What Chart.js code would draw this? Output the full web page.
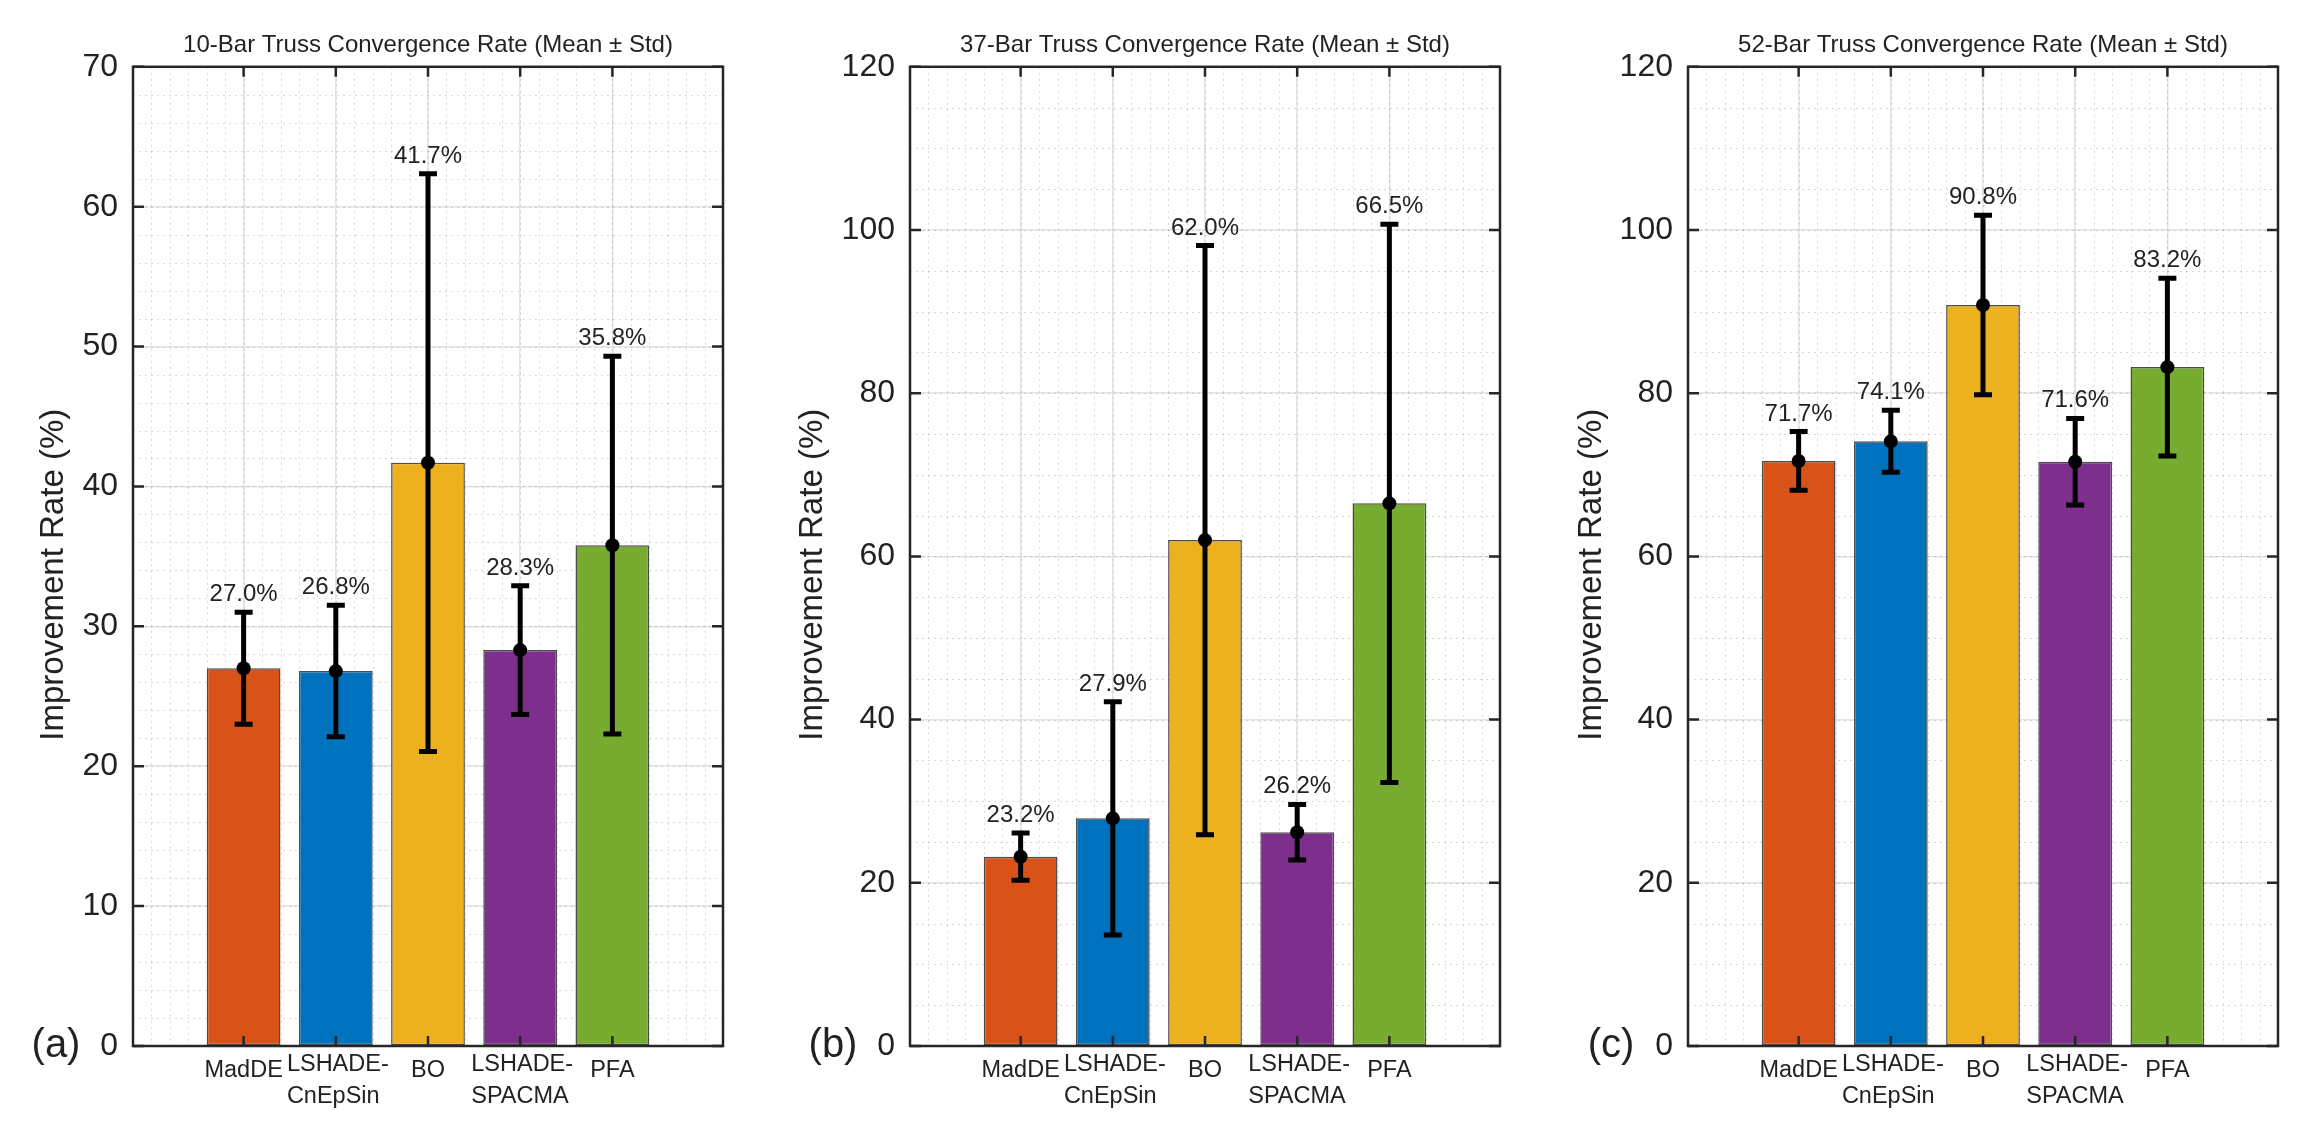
<!DOCTYPE html>
<html>
<head>
<meta charset="utf-8">
<script src="https://cdn.jsdelivr.net/npm/chart.js@4.4.1/dist/chart.umd.min.js"></script>
<style>
  html, body { margin: 0; padding: 0; background: #fff; overflow: hidden; }
  canvas { position: absolute; top: 0; }
</style>
</head>
<body>
<canvas id="c10" width="777" height="1132" style="left:0px"></canvas>
<canvas id="c37" width="777" height="1132" style="left:777px"></canvas>
<canvas id="c52" width="777" height="1132" style="left:1555px"></canvas>
<script>
// data
const categories = [['MadDE'], ['LSHADE-', 'CnEpSin'], ['BO'], ['LSHADE-', 'SPACMA'], ['PFA']];
const barColors = ['#D95319', '#0072BD', '#EDB120', '#7E2F8E', '#77AC30'];

const mean10 = [27.0, 26.8, 41.7, 28.3, 35.8];
const std10 = [4.0, 4.7, 20.65, 4.6, 13.5];

const mean37 = [23.2, 27.9, 62.0, 26.2, 66.5];
const std37 = [2.9, 14.3, 36.1, 3.4, 34.2];

const mean52 = [71.7, 74.1, 90.8, 71.6, 83.2];
const std52 = [3.6, 3.8, 11.0, 5.3, 10.9];

const FONT = '"Liberation Sans", Arial, Helvetica, sans-serif';
const AXIS = '#262626';

//draws minor grid, error bars, value labels, category labels, box and inward ticks
const meanStdPlugin = {
    id: 'meanStd',
    beforeDatasetsDraw(chart, args, o) {
        const {ctx, chartArea: a, scales: {x, y}} = chart;
        ctx.save();
        ctx.strokeStyle = 'rgba(0,0,0,0.15)';
        ctx.lineWidth = 1;
        ctx.setLineDash([2, 4]);
        let nx = Math.round((x.max - x.min) / 0.2);
        for (let i = 1; i < nx; i++) {
            let px = Math.round(x.getPixelForValue(x.min + i * 0.2)) + 0.5;
            ctx.beginPath(); ctx.moveTo(px, a.top); ctx.lineTo(px, a.bottom); ctx.stroke();
        }
        let ny = Math.round(y.max / o.minorStep);
        for (let i = 1; i < ny; i++) {
            let py = Math.round(y.getPixelForValue(i * o.minorStep)) + 0.5;
            ctx.beginPath(); ctx.moveTo(a.left, py); ctx.lineTo(a.right, py); ctx.stroke();
        }
        ctx.restore();
    },
    afterDatasetsDraw(chart, args, o) {
        const {ctx, chartArea: a, scales: {x, y}} = chart;
        ctx.save();
        // error bars
        o.means.forEach((m, i) => {
            let px = x.getPixelForValue(i + 1);
            let top = y.getPixelForValue(m + o.std[i]);
            let bot = y.getPixelForValue(m - o.std[i]);
            let mid = y.getPixelForValue(m);
            ctx.strokeStyle = '#000';
            ctx.lineWidth = 5;
            ctx.beginPath();
            ctx.moveTo(px, top); ctx.lineTo(px, bot);
            ctx.moveTo(px - 9, top); ctx.lineTo(px + 9, top);
            ctx.moveTo(px - 9, bot); ctx.lineTo(px + 9, bot);
            ctx.stroke();
            ctx.fillStyle = '#000';
            ctx.beginPath(); ctx.arc(px, mid, 7, 0, Math.PI * 2); ctx.fill();
            // value label
            ctx.fillStyle = '#222';
            ctx.font = '24px ' + FONT;
            ctx.textAlign = 'center';
            ctx.textBaseline = 'alphabetic';
            ctx.fillText(m.toFixed(1) + '%', px, top - 11);
        });
        // category labels, lines left aligned inside a centred block
        ctx.font = '23.5px ' + FONT;
        ctx.fillStyle = '#222';
        ctx.textAlign = 'left';
        categories.forEach((lines, i) => {
            let px = x.getPixelForValue(i + 1);
            let w = Math.max(...lines.map(s => ctx.measureText(s).width));
            if (lines.length == 1) {
                ctx.fillText(lines[0], px - w / 2, a.bottom + 31);
            } else {
                lines.forEach((s, k) => ctx.fillText(s, px - w / 2 + 2, a.bottom + 25 + k * 32));
            }
        });
        // box
        ctx.strokeStyle = AXIS;
        ctx.lineWidth = 2.5;
        ctx.strokeRect(a.left, a.top, a.right - a.left, a.bottom - a.top);
        // inward ticks
        ctx.beginPath();
        x.ticks.forEach(t => {
            let px = x.getPixelForValue(t.value);
            ctx.moveTo(px, a.bottom); ctx.lineTo(px, a.bottom - 10);
            ctx.moveTo(px, a.top); ctx.lineTo(px, a.top + 10);
        });
        y.ticks.forEach(t => {
            let py = y.getPixelForValue(t.value);
            ctx.moveTo(a.left, py); ctx.lineTo(a.left + 11, py);
            ctx.moveTo(a.right, py); ctx.lineTo(a.right - 11, py);
        });
        ctx.stroke();
        // panel letter
        ctx.fillStyle = '#222';
        ctx.font = '40px ' + FONT;
        ctx.textAlign = 'center';
        ctx.textBaseline = 'middle';
        ctx.fillText(o.letter, a.left - 77, y.getPixelForValue(0));
        ctx.restore();
    }
};

function makePanel(id, title, means, stds, yMax, yStep, minorStep, letter, titlePad) {
    var ctx = document.getElementById(id).getContext('2d');
    new Chart(ctx, {
        type: 'bar',
        data: {
            datasets: [{
                data: means.map((m, i) => ({x: i + 1, y: m})),
                backgroundColor: barColors,
                borderColor: 'rgba(45,45,45,0.85)',
                borderWidth: 1.5,
                borderSkipped: false,
                barPercentage: 0.8,
                categoryPercentage: 1.0
            }]
        },
        options: {
            responsive: false,
            animation: false,
            devicePixelRatio: 1,
            layout: {padding: {top: 0, right: 54, bottom: 0, left: 0}},
            plugins: {
                legend: {display: false},
                tooltip: {enabled: false},
                title: {
                    display: true,
                    fullSize: false,
                    text: title,
                    color: '#222',
                    font: {size: 24, family: FONT, weight: 'normal', lineHeight: 1.2},
                    padding: {top: 31, bottom: 7}
                },
                meanStd: {means: means, std: stds, minorStep: minorStep, letter: letter}
            },
            scales: {
                x: {
                    type: 'linear',
                    min: -0.2,
                    max: 6.2,
                    offset: false,
                    afterBuildTicks: s => { s.ticks = categories.map((c, i) => ({value: i + 1})); },
                    afterFit: s => { s.height = 86; },
                    ticks: {display: false},
                    grid: {color: '#e4e4e4', lineWidth: 1.5, drawTicks: false, offset: false},
                    border: {display: false}
                },
                y: {
                    min: 0,
                    max: yMax,
                    afterFit: s => { s.width = 133; },
                    ticks: {
                        stepSize: yStep,
                        padding: 15,
                        color: '#222',
                        font: {size: 32, family: FONT}
                    },
                    title: {
                        display: true,
                        // trailing spaces nudge the rotated label a little lower, like the original
                        text: 'Improvement Rate (%)    ',
                        color: '#222',
                        font: {size: 33, family: FONT, lineHeight: 1.2},
                        padding: {top: titlePad, bottom: 0}
                    },
                    grid: {color: '#e4e4e4', lineWidth: 1.5, drawTicks: false},
                    border: {display: false}
                }
            }
        },
        plugins: [meanStdPlugin]
    });
}

makePanel('c10', '10-Bar Truss Convergence Rate (Mean ± Std)', mean10, std10, 70, 10, 2, '(a)', 34);
makePanel('c37', '37-Bar Truss Convergence Rate (Mean ± Std)', mean37, std37, 120, 20, 5, '(b)', 16);
makePanel('c52', '52-Bar Truss Convergence Rate (Mean ± Std)', mean52, std52, 120, 20, 5, '(c)', 17);
</script>
</body>
</html>
